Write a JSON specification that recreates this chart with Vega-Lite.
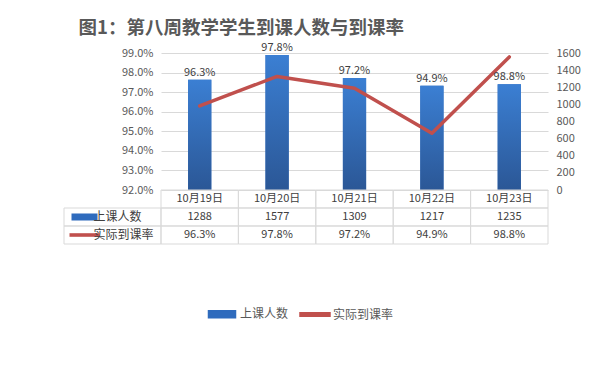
{
  "$schema": "https://vega.github.io/schema/vega-lite/v6.json",
  "padding": {"left": 63, "top": 19, "right": 10, "bottom": 10},
  "background": "white",
  "title": {"text": "图1：第八周教学学生到课人数与到课率", "anchor": "start", "dx": 15, "fontSize": 18.5, "fontWeight": "bold", "color": "#595959", "font": "Noto Sans CJK SC", "offset": 4},
  "datasets": {
    "main": [
      {"date": "10月19日", "count": 1288, "rate": 0.963},
      {"date": "10月20日", "count": 1577, "rate": 0.978},
      {"date": "10月21日", "count": 1309, "rate": 0.972},
      {"date": "10月22日", "count": 1217, "rate": 0.949},
      {"date": "10月23日", "count": 1235, "rate": 0.988}
    ],
    "rows": [
      {"row": "count", "name": "上课人数"},
      {"row": "rate", "name": "实际到课率"}
    ]
  },
  "columns": 2,
  "spacing": 0,
  "bounds": "flush",
  "concat": [
    {
      "width": 97, "height": 137,
      "data": {"values": [{}]},
      "mark": {"type": "text"},
      "encoding": {"text": {"value": ""}}
    },
    {
      "width": 387, "height": 137,
      "data": {"name": "main"},
      "layer": [
        {
          "mark": {"type": "bar", "width": {"band": 0.3}},
          "encoding": {
            "x": {"field": "date", "type": "nominal", "sort": null, "scale": {"paddingInner": 0, "paddingOuter": 0}, "axis": null},
            "y": {"field": "count", "type": "quantitative", "scale": {"domain": [0, 1600], "nice": false}, "axis": {"orient": "right", "values": [0, 200, 400, 600, 800, 1000, 1200, 1400, 1600], "format": "d", "grid": false, "domain": false, "ticks": false, "labelPadding": 8, "labelColor": "#595959", "labelFontSize": 11, "title": null}},
            "color": {"datum": "上课人数", "type": "nominal", "scale": {"domain": ["上课人数", "实际到课率"], "range": ["#2f6bbd", "#c0504d"]},
              "legend": {"orient": "none", "legendX": 142, "legendY": 245, "title": null, "direction": "horizontal", "labelFontSize": 12, "labelColor": "#595959", "symbolSize": 900, "columnPadding": 8, "labelOffset": 2,
                "encode": {"symbols": {"update": {
                  "shape": {"signal": "datum.value === '上课人数' ? 'M-0.9,-0.233L0.9,-0.233L0.9,0.233L-0.9,0.233Z' : 'M-1,-0.12L1,-0.12L1,0.12L-1,0.12Z'"},
                  "fill": {"signal": "datum.value === '上课人数' ? '#2f6bbd' : '#c0504d'"},
                  "stroke": {"value": "transparent"},
                  "opacity": {"value": 1}
                }}}}}
          }
        },
        {
          "mark": {"type": "bar", "width": {"band": 0.3}, "fill": {"gradient": "linear", "x1": 0, "y1": 0, "x2": 0, "y2": 1, "stops": [{"offset": 0, "color": "#3b7fd3"}, {"offset": 1, "color": "#2b5796"}]}},
          "encoding": {
            "x": {"field": "date", "type": "nominal", "sort": null, "axis": null},
            "y": {"field": "count", "type": "quantitative", "scale": {"domain": [0, 1600], "nice": false}, "axis": null}
          }
        },
        {
          "mark": {"type": "line", "strokeWidth": 3.5, "strokeCap": "round", "strokeJoin": "round"},
          "encoding": {
            "x": {"field": "date", "type": "nominal", "sort": null, "axis": null},
            "y": {"field": "rate", "type": "quantitative", "scale": {"domain": [0.92, 0.99], "nice": false, "zero": false}, "axis": {"orient": "left", "values": [0.92, 0.93, 0.94, 0.95, 0.96, 0.97, 0.98, 0.99], "format": ".1%", "grid": true, "gridColor": "#d9d9d9", "domain": false, "ticks": false, "labelPadding": 8, "labelColor": "#595959", "labelFontSize": 11, "title": null}},
            "color": {"datum": "实际到课率", "type": "nominal"}
          }
        },
        {
          "mark": {"type": "text", "baseline": "bottom", "dy": -2, "fontSize": 11, "color": "#404040"},
          "encoding": {
            "x": {"field": "date", "type": "nominal", "sort": null, "axis": null},
            "y": {"field": "count", "type": "quantitative", "scale": {"domain": [0, 1600], "nice": false}, "axis": null},
            "text": {"field": "rate", "type": "quantitative", "format": ".1%"}
          }
        }
      ],
      "resolve": {"scale": {"y": "independent"}}
    },
    {
      "width": 97, "height": 54,
      "data": {"name": "rows"},
      "layer": [
        {
          "mark": {"type": "rect", "fill": "transparent", "stroke": "#d9d9d9", "strokeWidth": 1},
          "encoding": {
            "y": {"field": "row", "type": "nominal", "scale": {"type": "band", "domain": ["date", "count", "rate"], "paddingInner": 0, "paddingOuter": 0}, "axis": null}
          }
        },
        {
          "transform": [{"filter": "datum.row === 'count'"}],
          "mark": {"type": "point", "shape": "M-1,-0.27L1,-0.27L1,0.27L-1,0.27Z", "filled": true, "size": 676, "color": "#2f6bbd", "opacity": 1},
          "encoding": {
            "x": {"datum": "icon", "type": "nominal", "scale": {"type": "point", "domain": ["icon", "name"], "range": [16, 34]}, "axis": null},
            "y": {"field": "row", "type": "nominal", "scale": {"type": "band", "domain": ["date", "count", "rate"], "paddingInner": 0, "paddingOuter": 0}, "axis": null}
          }
        },
        {
          "transform": [{"filter": "datum.row === 'rate'"}],
          "mark": {"type": "point", "shape": "M-1,-0.12L1,-0.12L1,0.12L-1,0.12Z", "filled": true, "size": 900, "color": "#c0504d", "opacity": 1},
          "encoding": {
            "x": {"datum": "icon", "type": "nominal", "axis": null},
            "y": {"field": "row", "type": "nominal", "axis": null}
          }
        },
        {
          "mark": {"type": "text", "align": "left", "baseline": "middle", "fontSize": 12, "color": "#404040"},
          "encoding": {
            "x": {"datum": "name", "type": "nominal", "axis": null},
            "y": {"field": "row", "type": "nominal", "axis": null},
            "text": {"field": "name", "type": "nominal"}
          }
        }
      ]
    },
    {
      "width": 387, "height": 54,
      "data": {"name": "main"},
      "encoding": {
        "x": {"field": "date", "type": "nominal", "sort": null, "scale": {"paddingInner": 0, "paddingOuter": 0}, "axis": null}
      },
      "layer": [
        {
          "mark": {"type": "rect", "fill": "transparent", "stroke": "#d9d9d9", "strokeWidth": 1},
          "encoding": {"y": {"datum": "date", "type": "nominal", "scale": {"type": "band", "domain": ["date", "count", "rate"], "paddingInner": 0, "paddingOuter": 0}, "axis": null}}
        },
        {
          "mark": {"type": "rect", "fill": "transparent", "stroke": "#d9d9d9", "strokeWidth": 1},
          "encoding": {"y": {"datum": "count", "type": "nominal", "axis": null}}
        },
        {
          "mark": {"type": "rect", "fill": "transparent", "stroke": "#d9d9d9", "strokeWidth": 1},
          "encoding": {"y": {"datum": "rate", "type": "nominal", "axis": null}}
        },
        {
          "mark": {"type": "text", "baseline": "middle", "fontSize": 11, "color": "#404040"},
          "encoding": {"y": {"datum": "date", "type": "nominal", "axis": null}, "text": {"field": "date", "type": "nominal"}}
        },
        {
          "mark": {"type": "text", "baseline": "middle", "fontSize": 11, "color": "#404040"},
          "encoding": {"y": {"datum": "count", "type": "nominal", "axis": null}, "text": {"field": "count", "type": "nominal"}}
        },
        {
          "mark": {"type": "text", "baseline": "middle", "fontSize": 11, "color": "#404040"},
          "encoding": {"y": {"datum": "rate", "type": "nominal", "axis": null}, "text": {"field": "rate", "type": "quantitative", "format": ".1%"}}
        }
      ]
    }
  ],
  "config": {
    "font": "Noto Sans CJK SC",
    "view": {"stroke": null},
    "axis": {"labelFont": "Noto Sans CJK SC"},
    "legend": {"labelFont": "Noto Sans CJK SC"}
  }
}
